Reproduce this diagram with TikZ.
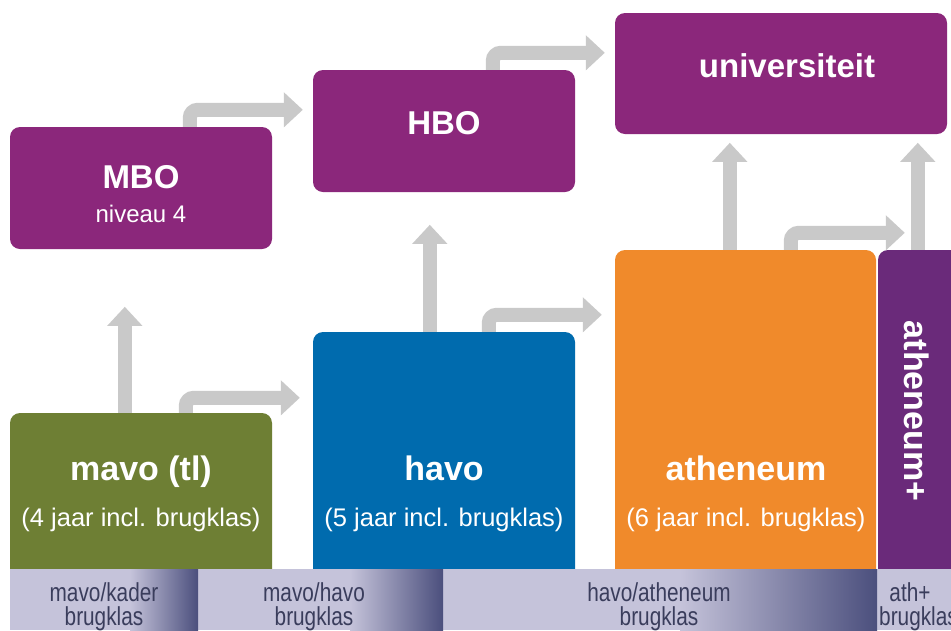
\documentclass[tikz,border=0pt]{standalone}
\usepackage{fontspec}
\setmainfont{Liberation Sans}
\newfontfamily\narrowfont[FakeStretch=0.8]{Liberation Sans}
\usetikzlibrary{arrows.meta,calc}
\definecolor{mpurple}{RGB}{139,39,123}
\definecolor{dpurple}{RGB}{106,42,122}
\definecolor{mgreen}{RGB}{110,127,52}
\definecolor{mblue}{RGB}{0,107,174}
\definecolor{morange}{RGB}{240,138,43}
\definecolor{agray}{RGB}{201,201,201}
\definecolor{bandl}{RGB}{197,195,218}
\definecolor{bandd}{RGB}{75,79,125}
\definecolor{bandtext}{RGB}{58,61,92}
\tikzset{
  box/.style={rectangle, rounded corners=10pt, inner sep=0pt, draw=none},
  garrow/.style={draw=agray, line width=14pt, rounded corners=8pt,
    -{Triangle[width=34pt,length=19pt]}},
  title/.style={text=white, font=\bfseries\fontsize{34}{38}\selectfont, anchor=base, inner sep=0pt},
  toptitle/.style={text=white, font=\bfseries\fontsize{33}{37}\selectfont, anchor=base, inner sep=0pt},
  subtitle/.style={text=white, font=\fontsize{25.5}{30}\selectfont, anchor=base, inner sep=0pt},
  bandtxt/.style={text=bandtext, font=\narrowfont\fontsize{26}{30}\selectfont, anchor=base, inner sep=0pt},
}
\begin{document}
\begin{tikzpicture}[x=1pt,y=-1pt]
\clip (0,0) rectangle (951,630);
\fill[white] (0,0) rectangle (951,630);

% boxes
\node[box, fill=mpurple, minimum width=262pt, minimum height=122pt] (mbo) at (141,188) {};
\node[box, fill=mpurple, minimum width=262pt, minimum height=122pt] (hbo) at (444,131) {};
\node[box, fill=mpurple, minimum width=332pt, minimum height=121pt] (uni) at (781,73.5) {};
\node[box, fill=mgreen, minimum width=262pt, minimum height=167pt] (mavo) at (141,496.5) {};
\node[box, fill=mblue, minimum width=262pt, minimum height=248pt] (havo) at (444,456) {};
\node[box, fill=morange, minimum width=261pt, minimum height=330pt] (athe) at (745.5,415) {};
\node[box, fill=dpurple, minimum width=122pt, minimum height=330pt] (athp) at (939,415) {};

% arrows
\draw[garrow] ($(mavo.north west)+(115,0)$) -- ++(0,-106);
\draw[garrow] ($(mavo.north west)+(176,0)$) -- ++(0,-15) -- ($(havo.north west)+(-13,66)$);
\draw[garrow] ($(havo.north west)+(117,0)$) -- ++(0,-107);
\draw[garrow] ($(havo.north west)+(176,0)$) -- ++(0,-17) -- ($(athe.north west)+(-13,65)$);
\draw[garrow] ($(athe.north west)+(115,0)$) -- ++(0,-107);
\draw[garrow] ($(athe.north west)+(176,0)$) -- ++(0,-17) -- ($(athp.north west)+(27,-17)$);
\draw[garrow] ($(athp.north west)+(40,0)$) -- ++(0,-107);
\draw[garrow] ($(mbo.north west)+(180,0)$) -- ++(0,-17) -- ($(hbo.north west)+(-10,40)$);
\draw[garrow] ($(hbo.north west)+(180,0)$) -- ++(0,-17) -- ($(uni.north west)+(-10,40)$);

% band
\fill[bandl] (10,569) rectangle (960,630);
\shade[left color=bandl, right color=bandd] (130,569) rectangle (198,630);
\shade[left color=bandl, right color=bandd] (350,569) rectangle (443,630);
\shade[left color=bandl, right color=bandd] (680,569) rectangle (877,630);

% texts
\node[toptitle] (tmbo) at (141,188) {MBO};
\node[text=white, font=\fontsize{24}{28}\selectfont, anchor=base, inner sep=0pt] (tniv) at (141,222) {niveau 4};
\node[toptitle] (thbo) at (444,134) {HBO};
\node[toptitle] (tuni) at (787,77) {universiteit};
\node[title] (tmavo) at (141,480) {mavo (tl)};
\node[subtitle] (smavo) at (141,526) {(4 jaar incl. brugklas)};
\node[title] (thavo) at (444,480) {havo};
\node[subtitle] (shavo) at (444,526) {(5 jaar incl. brugklas)};
\node[title] (tathe) at (746,480) {atheneum};
\node[subtitle] (sathe) at (746,526) {(6 jaar incl. brugklas)};
\node[text=white, font=\bfseries\fontsize{34}{38}\selectfont, rotate=-90, inner sep=0pt] (tathp) at (917,411) {atheneum+};

\node[bandtxt] (b1a) at (104,601) {mavo/kader};
\node[bandtxt] (b1b) at (104,625) {brugklas};
\node[bandtxt] (b2a) at (314,601) {mavo/havo};
\node[bandtxt] (b2b) at (314,625) {brugklas};
\node[bandtxt] (b3a) at (659,601) {havo/atheneum};
\node[bandtxt] (b3b) at (659,625) {brugklas};
\node[bandtxt] (b4a) at (910,601) {ath+};
\node[bandtxt, anchor=base west] (b4b) at (879,625) {brugklas};
\end{tikzpicture}
\end{document}
